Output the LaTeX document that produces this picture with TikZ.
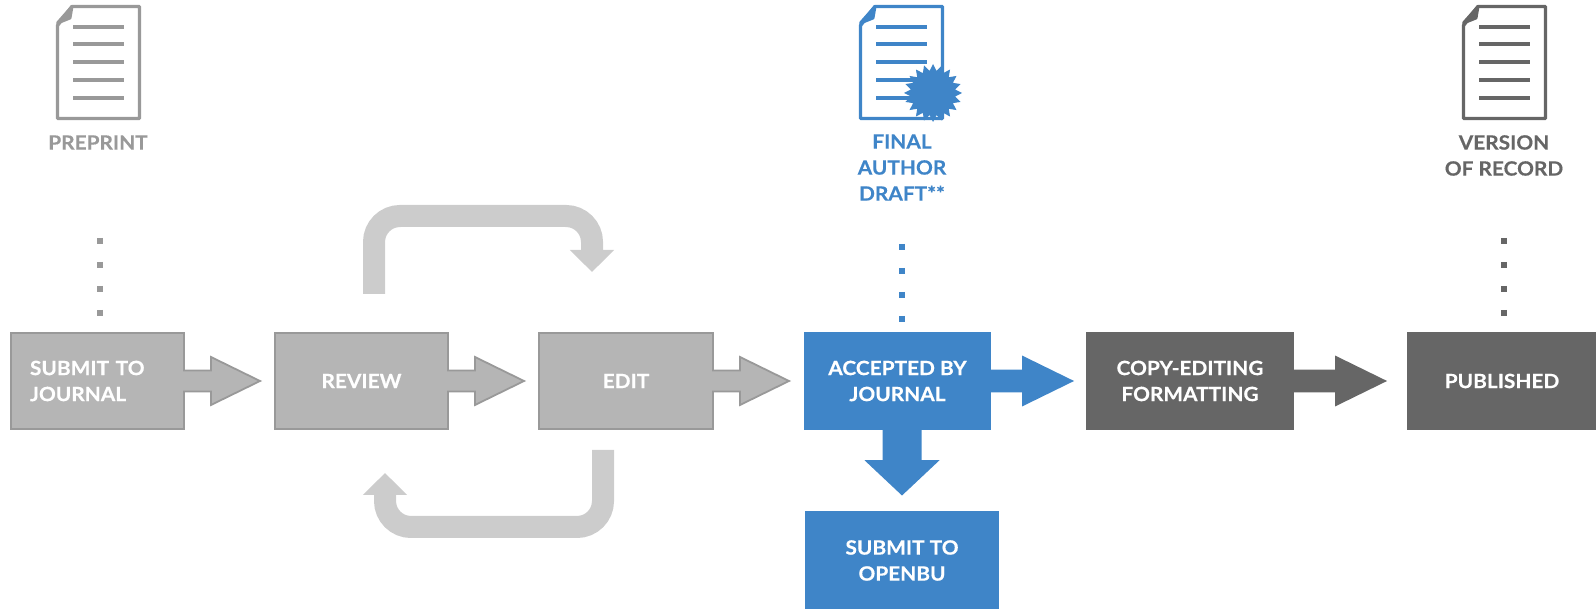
\documentclass[tikz,border=0pt]{standalone}
\usepackage{fontspec}
\setmainfont{Lato}[BoldFeatures={FakeStretch=1.06,FakeBold=.35}]
\usetikzlibrary{calc, shapes.geometric, arrows.meta}
\definecolor{boxgray}{HTML}{B5B5B5}
\definecolor{edgegray}{HTML}{999999}
\definecolor{loopgray}{HTML}{CCCCCC}
\definecolor{docblue}{HTML}{3F85C8}
\definecolor{docdark}{HTML}{666666}
\tikzset{
  stage/.style={rectangle, inner sep=0pt, outer sep=0pt, minimum height=.965cm, align=center, text=white,
    line width=.018cm, font=\fontsize{5.6}{7.4}\selectfont\bfseries},
  graystage/.style={stage, fill=boxgray, draw=edgegray},
  bluestage/.style={stage, fill=docblue, draw=docblue},
  darkstage/.style={stage, fill=docdark, draw=docdark},
  doclabel/.style={inner sep=0pt, align=center, font=\fontsize{5.6}{7.4}\selectfont\bfseries},
  flowto/.style={line width=.018cm, to path={let \p1=(\tikztostart.east), \p2=(\tikztotarget.west) in
    (\x1-.01cm,\y1+.105cm) -- (\x2-.49cm-#1cm,\y1+.105cm) -- (\x2-.49cm-#1cm,\y1+.24cm) -- (\x2-#1cm,\y1)
    -- (\x2-.49cm-#1cm,\y1-.24cm) -- (\x2-.49cm-#1cm,\y1-.105cm) -- (\x1-.01cm,\y1-.105cm)}},
  loopflow/.style={draw=loopgray, line width=.22cm, rounded corners=.26cm, -{Triangle[length=.22cm,width=.43cm]}},
  dotline/.style={line width=.06cm, dash pattern=on .06cm off .18cm},
  docicon/.pic={
    \draw[#1, line width=.034cm, line join=round] (-.41,-.205)--(-.265,-.015)--(.41,-.015)--(.41,-1.135)--(-.41,-1.135)--cycle;
    \filldraw[#1, line width=.03cm, line join=round] (-.265,-.015)--(-.285,-.13)--(-.41,-.18)--cycle;
    \foreach \ly in {-.22,-.395,-.575,-.75,-.93}
      \draw[#1, line width=.04cm] (-.255,\ly)--(.255,\ly);
  }
}
\begin{document}
\begin{tikzpicture}
\useasboundingbox (0,0) rectangle (15.96,6.09);

\node[graystage, minimum width=1.73cm, text width=1.35cm, align=left] (submit) at (.975,2.28) {SUBMIT TO\\JOURNAL};
\node[graystage, minimum width=1.73cm] (review) at (3.615,2.28) {REVIEW};
\node[graystage, minimum width=1.74cm] (edit) at (6.26,2.28) {EDIT};
\node[bluestage, minimum width=1.85cm] (accepted) at (8.975,2.28) {ACCEPTED BY\\JOURNAL};
\node[darkstage, minimum width=2.06cm] (copyedit) at (11.9,2.28) {COPY-EDITING\\FORMATTING};
\node[darkstage, minimum width=1.88cm] (published) at (15.02,2.28) {PUBLISHED};
\node[bluestage, minimum width=1.92cm, minimum height=.97cm] (openbu) at (9.02,.485) {SUBMIT TO\\OPENBU};

\draw[flowto=.15, fill=boxgray, draw=edgegray] (submit) to (review);
\draw[flowto=.15, fill=boxgray, draw=edgegray] (review) to (edit);
\draw[flowto=.16, fill=boxgray, draw=edgegray] (edit) to (accepted);
\draw[flowto=.15, fill=docblue, draw=docblue] (accepted) to (copyedit);
\draw[flowto=.23, fill=docdark, draw=docdark] (copyedit) to (published);
\fill[docblue] let \p1=(accepted.south -| openbu.north), \p2=(openbu.north) in
  (\x1-.195cm,\y1)--(\x1-.195cm,\y1-.31cm)--(\x1-.375cm,\y1-.31cm)--(\x2,\y2+.165cm)
  --(\x1+.375cm,\y1-.31cm)--(\x1+.195cm,\y1-.31cm)--(\x1+.195cm,\y1)--cycle;

\coordinate (loopAin) at (3.74,3.15);
\coordinate (loopAout) at (5.92,3.37);
\coordinate (loopBin) at (6.03,1.59);
\coordinate (loopBout) at (3.85,1.36);
\draw[loopflow] (loopAin)--++(0,.78)-|(loopAout);
\draw[loopflow] (loopBin)--++(0,-.77)-|(loopBout);

\coordinate (dotsA) at (.997,3.712);
\coordinate (dotsB) at (9.02,3.652);
\coordinate (dotsC) at (15.043,3.712);
\draw[dotline, edgegray] (dotsA)--++(0,-.78);
\draw[dotline, docblue] (dotsB)--++(0,-.78);
\draw[dotline, docdark] (dotsC)--++(0,-.78);

\pic at (.985,6.04) {docicon=edgegray};
\pic at (9.015,6.04) {docicon=docblue};
\pic at (15.045,6.04) {docicon=docdark};
\node[star, star points=20, star point ratio=1.3, fill=docblue, inner sep=0pt, minimum size=.58cm] (seal) at (9.33,5.16) {};

\node[doclabel, text=edgegray] (preprint) at (.98,4.665) {PREPRINT};
\node[doclabel, text=docblue] (finaldraft) at (9.02,4.415) {FINAL\\AUTHOR\\DRAFT**};
\node[doclabel, text=docdark] (record) at (15.04,4.535) {VERSION\\OF RECORD};

\end{tikzpicture}
\end{document}
